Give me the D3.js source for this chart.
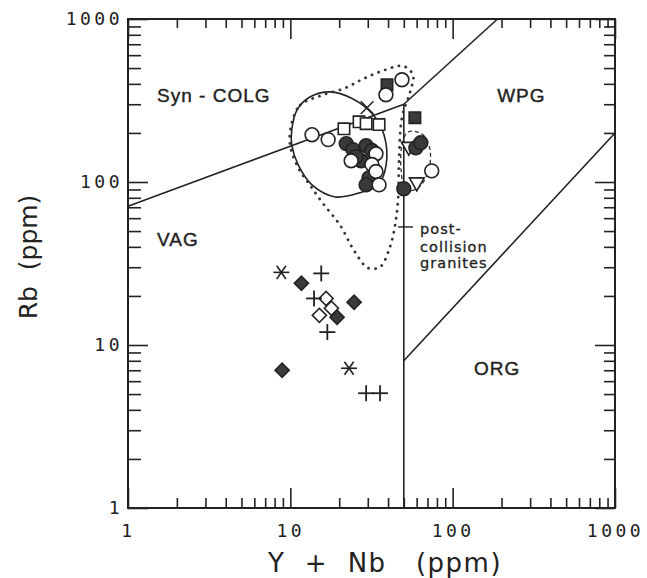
<!DOCTYPE html>
<html>
<head>
<meta charset="utf-8">
<title>Rb vs Y+Nb discrimination diagram</title>
<script src="https://d3js.org/d3.v7.min.js"></script>
<style>
  body { margin: 0; background: #fff; }
  svg text { fill: #222; }
</style>
</head>
<body>
<svg width="647" height="578"></svg>
<script>
// ---- data: [Y+Nb, Rb] in ppm ----
var openCircles = [[13.6,195],[17.1,182],[23.7,135],[33.7,149],[31.8,128],[33.7,116],[35.2,96],[38.8,343],[48.7,424],[74.3,117]];
var filledCircles = [[22.1,172],[24.3,158],[29.3,167],[27.3,135],[25.4,143],[31.8,156],[30.5,106],[29.3,96],[50.0,91],[59.3,162],[63.6,174]];
var filledSquares = [[39.4,395],[58.5,248]];
var openSquares = [[21.4,212],[26.5,234],[29.3,228],[35.2,225]];
var crosses = [[29.7,286]];
var openTriangles = [[60.1,98],[53.7,162]];
var asterisks = [[8.8,27.9],[23.0,7.2]];
var filledDiamonds = [[11.7,23.9],[24.7,18.3],[19.4,14.8],[8.9,7.0]];
var openDiamonds = [[16.6,19.3],[15.1,15.2],[17.9,16.8]];
var plusses = [[15.5,27.5],[14.0,19.3],[16.9,12.0],[29.3,5.06],[35.7,5.06]];

// field boundaries
var colgVag = [[1,71],[50,300]];
var colgWpg = [[50,300],[189,1000]];
var vagOrg = [[50,1],[50,300]];
var wpgOrg = [[50,8],[1000,200]];
var postColSolid = [[10.2,208],[11.0,277],[13.2,332],[17.6,357],[24.0,325],[32.0,262],[37.8,194],[38.9,127],[34.7,96],[26.9,86],[18.9,81],[13.6,96],[11.2,127],[10.2,169]];
var postColDotted = [[10.2,230],[11.5,297],[15.2,337],[21.7,377],[28.9,435],[38.3,487],[49.5,515],[57.0,453],[54.7,357],[48.8,251],[46.7,136],[46.1,77.6],[44.2,54.5],[41.1,39.9],[35.7,30.1],[30.1,29.7],[25.0,37.2],[20.2,54.5],[15.9,73.8],[13.2,95.9],[11.2,122],[9.96,169]];
var wpgDashed = [[53.1,203],[64.8,197],[72.6,157],[70.5,115],[61.2,91.9],[51.6,89.3],[48.1,119],[48.8,169]];
var leader = [[46.1,53],[57.0,53]];

// labels
var decades = [1,10,100,1000];
var minorTicks = [2,3,4,5,6,7,8,9,20,30,40,50,60,70,80,90,200,300,400,500,600,700,800,900];
var zoneLabels = [
  {t:"Syn - COLG", x:1.51, y:310},
  {t:"WPG", x:188, y:310},
  {t:"VAG", x:1.51, y:40.5},
  {t:"ORG", x:135.5, y:6.5}
];
var pcLabels = [
  {t:"post-", x:63, y:48},
  {t:"collision", x:63, y:37.2},
  {t:"granites", x:63, y:29.7}
];

var svg = d3.select("svg");

var x = d3.scaleLog().domain([1,1000]).range([128,615]);
var y = d3.scaleLog().domain([1,1000]).range([508,19]);

// frame
svg.append("rect")
  .attr("x", 128).attr("y", 19)
  .attr("width", 615-128).attr("height", 508-19)
  .attr("fill", "none").attr("stroke", "#222").attr("stroke-width", 2);

// axes - inward ticks
function tickStyle(g) {
  g.select(".domain").remove();
  g.selectAll(".tick line").attr("stroke", "#222").attr("stroke-width", 1.6);
  g.selectAll(".tick text")
    .attr("font-family", "'DejaVu Sans Mono', monospace")
    .attr("font-size", 18)
    .attr("letter-spacing", 3.5)
    .attr("fill", "#222");
}
svg.append("g").attr("transform","translate(0,508)")
  .call(d3.axisBottom(x).tickValues(minorTicks).tickSize(-10).tickFormat("")).call(tickStyle);
svg.append("g").attr("transform","translate(0,508)")
  .call(d3.axisBottom(x).tickValues(decades).tickSize(-20).tickPadding(16).tickFormat(d3.format("d"))).call(tickStyle);
svg.append("g").attr("transform","translate(0,19)")
  .call(d3.axisTop(x).tickValues(minorTicks).tickSize(-9).tickFormat("")).call(tickStyle);
svg.append("g").attr("transform","translate(0,19)")
  .call(d3.axisTop(x).tickValues(decades).tickSize(-20).tickFormat("")).call(tickStyle);
svg.append("g").attr("transform","translate(128,0)")
  .call(d3.axisLeft(y).tickValues(minorTicks).tickSize(-13).tickFormat("")).call(tickStyle);
svg.append("g").attr("transform","translate(128,0)")
  .call(d3.axisLeft(y).tickValues(decades).tickSize(-20).tickPadding(5).tickFormat(d3.format("d"))).call(tickStyle);
svg.append("g").attr("transform","translate(615,0)")
  .call(d3.axisRight(y).tickValues(minorTicks).tickSize(-11).tickFormat("")).call(tickStyle);
svg.append("g").attr("transform","translate(615,0)")
  .call(d3.axisRight(y).tickValues(decades).tickSize(-20).tickFormat("")).call(tickStyle);

// boundaries
var line = d3.line().x(function(d){ return x(d[0]); }).y(function(d){ return y(d[1]); });
[colgVag, colgWpg, vagOrg, wpgOrg].forEach(function(seg){
  svg.append("path").attr("d", line(seg))
    .attr("fill","none").attr("stroke","#222").attr("stroke-width",1.6);
});

var closedLine = d3.line().x(function(d){ return x(d[0]); }).y(function(d){ return y(d[1]); })
  .curve(d3.curveCatmullRomClosed.alpha(0.5));
svg.append("path").attr("d", closedLine(postColSolid))
  .attr("fill","none").attr("stroke","#222").attr("stroke-width",1.6);
svg.append("path").attr("d", closedLine(postColDotted))
  .attr("fill","none").attr("stroke","#333").attr("stroke-width",2.8)
  .attr("stroke-linecap","round").attr("stroke-dasharray","0.1 7");
svg.append("path").attr("d", closedLine(wpgDashed))
  .attr("fill","none").attr("stroke","#333").attr("stroke-width",1.3)
  .attr("stroke-dasharray","4 3");
svg.append("path").attr("d", line(leader))
  .attr("fill","none").attr("stroke","#222").attr("stroke-width",1.4);

// zone labels
svg.selectAll(".zone").data(zoneLabels).enter().append("text")
  .attr("class","zone")
  .attr("x", function(d){ return x(d.x); })
  .attr("y", function(d){ return y(d.y); })
  .attr("font-family","'Liberation Sans', Arial, sans-serif")
  .attr("font-size", 19)
  .attr("letter-spacing", 1)
  .attr("stroke", "#222").attr("stroke-width", 0.4)
  .style("white-space","pre")
  .text(function(d){ return d.t; });

svg.selectAll(".pc").data(pcLabels).enter().append("text")
  .attr("class","pc")
  .attr("x", function(d){ return x(d.x); })
  .attr("y", function(d){ return y(d.y); })
  .attr("font-family","'DejaVu Sans', sans-serif")
  .attr("font-size", 14.5)
  .attr("letter-spacing", 1)
  .attr("stroke", "#222").attr("stroke-width", 0.3)
  .text(function(d){ return d.t; });

// markers
var ink = "#3a3a3a";
function pos(d){ return "translate(" + x(d[0]) + "," + y(d[1]) + ")"; }

function drawSymbol(data, type, size, fill, rot) {
  svg.append("g").selectAll("path").data(data).enter().append("path")
    .attr("transform", function(d){ return pos(d) + (rot ? " rotate(" + rot + ")" : ""); })
    .attr("d", d3.symbol().type(type).size(size)())
    .attr("fill", fill).attr("stroke", "#222").attr("stroke-width", 1.6);
}

function drawLines(data, angles, r, w) {
  var g = svg.append("g");
  data.forEach(function(d){
    angles.forEach(function(a){
      var rad = a * Math.PI / 180;
      g.append("line")
        .attr("x1", x(d[0]) - r*Math.cos(rad)).attr("y1", y(d[1]) - r*Math.sin(rad))
        .attr("x2", x(d[0]) + r*Math.cos(rad)).attr("y2", y(d[1]) + r*Math.sin(rad))
        .attr("stroke", "#222").attr("stroke-width", w);
    });
  });
}

var triDown = {
  draw: function(ctx, size) {
    var s = Math.sqrt(size);
    ctx.moveTo(-s*0.6, -s*0.45);
    ctx.lineTo(s*0.6, -s*0.45);
    ctx.lineTo(0, s*0.6);
    ctx.closePath();
  }
};

drawSymbol(openTriangles, triDown, 150, "#fff");
drawSymbol(filledCircles, d3.symbolCircle, 150, ink);
drawSymbol(openSquares, d3.symbolSquare, 130, "#fff");
drawSymbol(filledSquares, d3.symbolSquare, 130, ink);
drawSymbol(openCircles, d3.symbolCircle, 150, "#fff");
drawLines(crosses, [45, 135], 9, 1.5);
drawSymbol(filledDiamonds, d3.symbolSquare, 100, ink, 45);
drawSymbol(openDiamonds, d3.symbolSquare, 100, "#fff", 45);
drawLines(plusses, [0, 90], 8, 1.8);
drawLines(asterisks, [0, 55, 125], 8, 1.6);

// axis titles
svg.append("text")
  .attr("x", 385).attr("y", 572)
  .attr("text-anchor","middle")
  .attr("font-family","'DejaVu Sans', sans-serif")
  .attr("font-size", 26)
  .attr("letter-spacing", 1.5)
  .attr("fill","#444")
  .style("white-space","pre")
  .text("Y  +  Nb   (ppm)");

svg.append("text")
  .attr("transform","translate(37,257) rotate(-90)")
  .attr("text-anchor","middle")
  .attr("font-family","'DejaVu Sans', sans-serif")
  .attr("font-size", 25)
  .attr("fill","#444")
  .style("white-space","pre")
  .text("Rb  (ppm)");
</script>
</body>
</html>
